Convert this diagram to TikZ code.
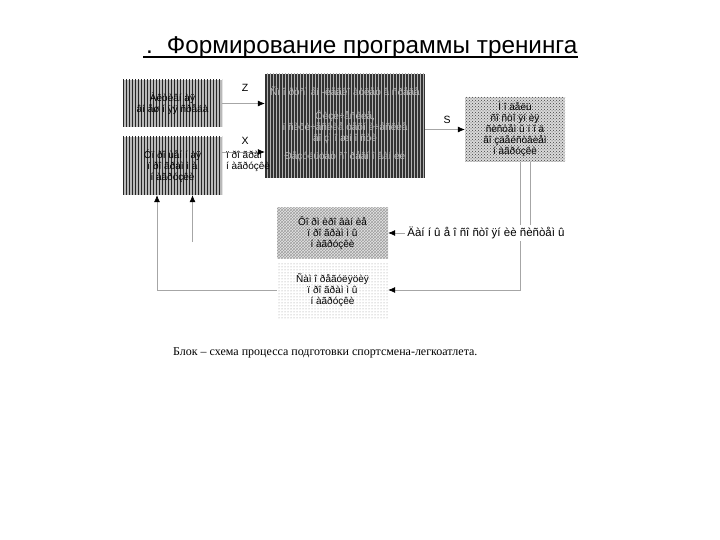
\documentclass[tikz,border=0pt]{standalone}
\usepackage{fontspec}
\setmainfont{Liberation Sans}
\newfontfamily\serifcap{Liberation Serif}
\usetikzlibrary{patterns,arrows.meta}
\begin{document}
\begin{tikzpicture}[x=1pt,y=-1pt,
  blk/.style={inner sep=0pt, align=center, font=\fontsize{10}{11}\selectfont},
  stripebox/.style={blk, fill=gray!55, postaction={pattern=vertical lines, pattern color=black!85}},
  darkbox/.style={blk, fill=black!80, postaction={pattern=vertical lines, pattern color=gray!60}},
  checkbox/.style={blk, fill=gray!30, postaction={pattern=crosshatch dots, pattern color=black!75}},
  hatchbox/.style={blk, fill=gray!20, postaction={pattern=crosshatch, pattern color=gray!75}},
  dotbox/.style={blk, fill=white, postaction={pattern=dots, pattern color=gray!85}},
  arr/.style={-{Latex[length=7pt,width=6pt,fill=black,color=black]}, draw=gray!70, line width=0.6pt},
  lbl/.style={inner sep=1pt, font=\fontsize{10.5}{12}\selectfont}
]
\useasboundingbox (0,0) rectangle (720,540);

% title
\node[anchor=base west, inner sep=0pt, font=\fontsize{24.3}{26}\selectfont] (title) at (143,54)
  {\hspace*{3pt}.\hspace{14pt}Формирование программы тренинга};
\draw[line width=1.4pt] ([yshift=-3pt]title.base west) -- ([yshift=-3pt]title.base east);

% boxes
\node[stripebox, minimum width=99, minimum height=47] (A) at (172.5,103.5)
  {Àêòèâí àÿ\\âí åø í ÿÿ ñðåäà};
\node[stripebox, minimum width=99, minimum height=58] (B) at (172.5,166)
  {Óï ðî ùåí í àÿ\\ï ðî ãðàì ì à\\í àãðóçêè};
\node[darkbox, minimum width=160, minimum height=104] (C) at (345,126) {};
\node[blk, text=gray!55] (C1) at (345,91) {Ñï î ðòñì åí -ëåãêî àòëåò â ñðåäå};
\node[blk, text=gray!55] (C2) at (345,127) {Ôèçè÷åñêèå,\\ï ñèõè÷åñêèå òåõí è÷åñêèå\\âî çì î æí î ñòè};
\node[blk, text=gray!55] (C3) at (345,157) {Ðåçóëüòàò ñî ðåâí î âàí èé};
\node[checkbox, minimum width=100, minimum height=65] (D) at (515,129.5)
  {Ì î äåëü\\ñî ñòî ÿí èÿ\\ñèñòåì û ï î ä\\âî çäåéñòâèåì\\í àãðóçêè};
\node[hatchbox, minimum width=111, minimum height=50] (E) at (332.5,233)
  {Ôî ðì èðî âàí èå\\ï ðî ãðàì ì û\\í àãðóçêè};
\node[dotbox, minimum width=111, minimum height=56] (F) at (332.5,290)
  {Ñàì î ðåãóëÿöèÿ\\ï ðî ãðàì ì û\\í àãðóçêè};

% connectors
\draw[arr] (A.east) -- (A.east -| C.west);
\coordinate (Bx) at ([yshift=14pt]B.east);
\draw[arr] (Bx) -- (Bx -| C.west);
\draw[arr] (C.east |- D.west) -- (D.west);
\draw[arr] ([xshift=15pt]D.south) |- (E.east);
\draw[arr] ([xshift=5pt]D.south) |- (F.east);
\draw[arr] (F.west) -| ([xshift=-15.5pt]B.south);
\coordinate (Bend) at (192.5,242);
\draw[arr] (Bend) -- (Bend |- B.south);

% labels
\node[lbl] (Z) at (245,88) {Z};
\node[lbl] (X) at (245,141) {X};
\node[lbl] (S) at (447,120) {S};
\node[inner sep=0pt, align=left, font=\fontsize{10}{11}\selectfont] (XL) at (248,161) {ï ðî ãðàì\\í àãðóçêè};
\node[lbl, fill=white, inner sep=2pt, font=\fontsize{11.5}{13}\selectfont] (dat) at (486,233) {Äàí í û å î  ñî ñòî ÿí èè ñèñòåì û};

% caption
\node[anchor=base west, inner sep=0pt, font=\serifcap\fontsize{12}{14}\selectfont] (cap) at (173,355)
  {Блок – схема процесса подготовки спортсмена-легкоатлета.};
\end{tikzpicture}
\end{document}
